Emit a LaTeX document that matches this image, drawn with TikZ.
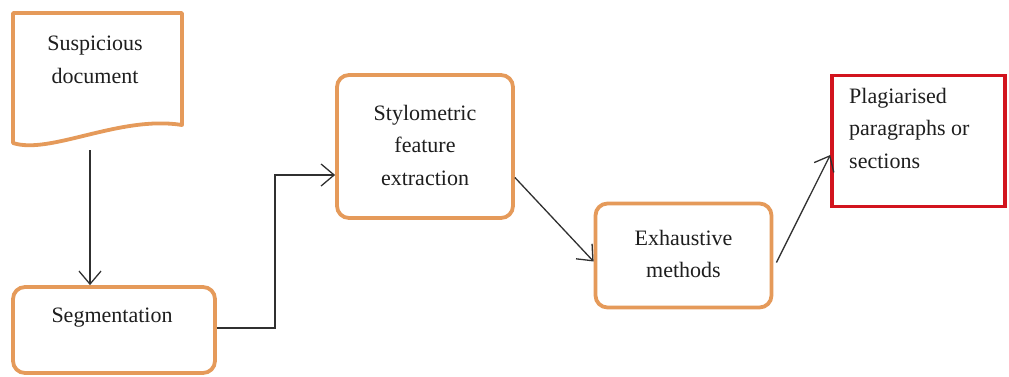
\documentclass[tikz,border=0pt]{standalone}
\usepackage{fontspec}
\setmainfont{Liberation Serif}
\usetikzlibrary{arrows.meta}
\definecolor{boxorange}{HTML}{E59A5A}
\definecolor{boxred}{HTML}{D2141E}
\definecolor{txt}{HTML}{1E1E1E}
\definecolor{linec}{HTML}{303030}
\begin{document}
\begin{tikzpicture}[x=1pt,y=-1pt,
  lbl/.style={text=txt,font=\fontsize{22}{32.5}\selectfont,align=center,inner sep=0pt},
  obox/.style={draw=boxorange,line width=3.8pt,rounded corners=12pt,fill=white},
  rbox/.style={draw=boxred,line width=3.5pt,fill=white},
  conn/.style={draw=linec,line width=1.3pt,-{Straight Barb[length=13pt,width=22pt,line width=1.3pt]}},
  plain/.style={draw=linec,line width=1.3pt}]
\useasboundingbox (0,0) rectangle (1009,376);
% Document shape
\draw[draw=boxorange,line width=3.8pt,fill=white,line join=round]
  (13,13) -- (182,13) -- (182,125) .. controls (120,115) and (50,155) .. (13,143) -- cycle;
\node[lbl] (doc) at (95,60) {Suspicious\\document};
\coordinate (docb) at (90,150);
% Boxes
\node[obox,minimum width=202pt,minimum height=86pt] (seg) at (114,330) {};
\node[lbl] (segt) at (112,318) {Segmentation};
\node[obox,minimum width=176pt,minimum height=143pt] (styl) at (425,146.5) {};
\node[lbl] (stylt) at (425,145) {Stylometric\\feature\\extraction};
\node[obox,minimum width=176pt,minimum height=104pt] (exh) at (683.5,255.5) {};
\node[lbl] (exht) at (683.5,254) {Exhaustive\\methods};
\node[rbox,minimum width=173pt,minimum height=131pt] (res) at (918.5,141) {};
\node[lbl,align=left,anchor=north west] (rest) at (849,88) {Plagiarised\\paragraphs or\\sections};
% Connectors
\draw[conn] (docb) -- (docb|-seg.north);
\coordinate (c1) at (275,328);
\coordinate (c2) at (275,175);
\draw[conn] ([yshift=2pt]seg.east) -- (c1) -- (c2) -- (styl.west|-c2);
\draw[conn] ([yshift=-31pt]styl.east) -- ([yshift=-6pt]exh.west);
\draw[conn] ([xshift=3pt,yshift=-7pt]exh.east) -- ([yshift=-14pt]res.west);
\end{tikzpicture}
\end{document}
